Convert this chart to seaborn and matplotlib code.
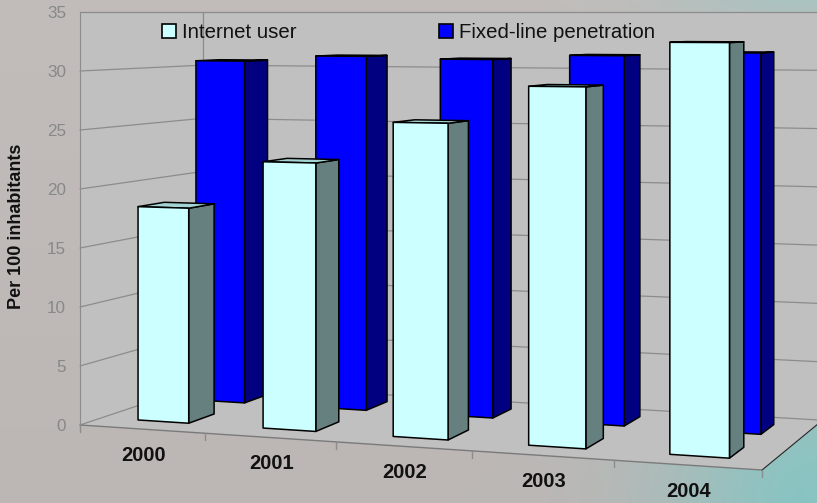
import numpy as np
import pandas as pd
import matplotlib
matplotlib.use("Agg")
import matplotlib.pyplot as plt
import matplotlib.transforms as mtransforms
from matplotlib.patches import Polygon, Patch
from matplotlib.lines import Line2D
import seaborn as sns

# ---- data -------------------------------------------------------------
years = ["2000", "2001", "2002", "2003", "2004"]
internet_users = [18.3, 22.4, 25.9, 29.0, 32.6]
fixed_line = [30.6, 31.1, 30.9, 31.3, 31.6]
series_names = ["Internet user", "Fixed-line penetration"]
value_ticks = [0, 5, 10, 15, 20, 25, 30, 35]
y_label = "Per 100 inhabitants"

df = pd.DataFrame({
    "year": years * 2,
    "value": internet_users + fixed_line,
    "series": [series_names[0]] * len(years) + [series_names[1]] * len(years),
})

# ---- style ------------------------------------------------------------
sns.set_style("white")
plt.rcParams["font.family"] = ["Liberation Sans", "DejaVu Sans"]

front_colors = {series_names[0]: "#CCFFFF", series_names[1]: "#0000FF"}
side_colors = {series_names[0]: "#668080", series_names[1]: "#000080"}
top_colors = {series_names[0]: "#A3D3D3", series_names[1]: "#0000B0"}
# depth slot (front, back) of each series row, in floor-depth units
depth = {series_names[0]: (0.165, 0.375), series_names[1]: (0.64, 0.85)}
row_z = {series_names[0]: 3, series_names[1]: 2}

WALL = "#C0C0C0"
GRID = "#8C8C8C"

W, H = 817, 503
fig = plt.figure(figsize=(W / 100, H / 100), dpi=100)

# ---- soft backdrop ----------------------------------------------------
bg = fig.add_axes([0, 0, 1, 1], zorder=-10)
yy, xx = np.mgrid[0:H, 0:W].astype(float)
base = np.array([190, 185, 183]) / 255
teal = np.array([138, 198, 196]) / 255
wgt = np.exp(-(((W - xx) / 150) ** 2 + ((H - yy) / 150) ** 2))
wgt += 0.45 * np.exp(-(((W - xx) / 150) ** 2 + (yy / 22) ** 2))
wgt = np.clip(wgt, 0, 1)[..., None]
img = base * (1 - wgt) + teal * wgt
img *= (1.02 - 0.03 * (yy / H))[..., None]
bg.imshow(np.clip(img, 0, 1), aspect="auto", extent=(0, 1, 0, 1), origin="upper")
bg.set_axis_off()

# ---- main axes: front plane of the 3-D box ----------------------------
ax = fig.add_axes([80 / W, (H - 425) / H, 615 / W, 413 / H])
ax.patch.set_visible(False)

sns.barplot(data=df, x="year", y="value", hue="series", hue_order=series_names,
            dodge=False, width=0.41, palette=front_colors, saturation=1,
            edgecolor="black", linewidth=1.1, errorbar=None, legend=False, ax=ax)
ax.set_xlim(-0.5, 4.5)
ax.set_ylim(0, 35)
ax.set_autoscale_on(False)

# perspective: foreshortening along categories and depth
C_X = -0.01966
C_Z = 0.11
SHIFT_Z = 1.107


def perspective(U, V, z):
    ox, oy = ax.transData.transform((-0.5, 35))
    sx = ax.transData.transform((0.5, 0))[0] - ax.transData.transform((-0.5, 0))[0]
    t = (U - ox) / sx
    w = 1 + C_X * t + C_Z * z
    u = ox + ((U - ox) + SHIFT_Z * sx * z) / w
    v = oy - (oy - V) / w
    return u, v


class Depth(mtransforms.Transform):
    input_dims = output_dims = 2

    def __init__(self, z):
        super().__init__()
        self.z = z

    def transform_non_affine(self, values):
        values = np.asarray(values, float).reshape(-1, 2)
        u, v = perspective(values[:, 0], values[:, 1], self.z)
        return np.column_stack([u, v])


def project(x, y, z):
    x, y, z = np.broadcast_arrays(np.asarray(x, float), np.asarray(y, float),
                                  np.asarray(z, float))
    UV = ax.transData.transform(np.column_stack([x.ravel(), y.ravel()]))
    u, v = perspective(UV[:, 0], UV[:, 1], z.ravel())
    return np.column_stack([u, v])


ident = mtransforms.IdentityTransform()


def face(xs, ys, zs, **kw):
    p = Polygon(project(xs, ys, zs), closed=True, transform=ident,
                clip_on=False, **kw)
    ax.add_patch(p)
    return p


def polyline(xs, ys, zs, **kw):
    pts = project(xs, ys, zs)
    ln = Line2D(pts[:, 0], pts[:, 1], transform=ident, clip_on=False, **kw)
    ax.add_line(ln)
    return ln


x_lo, x_hi = -0.5, 4.5
y_top = value_ticks[-1]

# walls and floor
face([x_lo] * 4, [0, 0, y_top, y_top], [0, 1, 1, 0], facecolor=WALL, edgecolor="none", zorder=0.1)
face([x_lo, x_hi, x_hi, x_lo], [0, 0, y_top, y_top], [1] * 4, facecolor=WALL, edgecolor="none", zorder=0.1)
face([x_lo, x_hi, x_hi, x_lo], [0] * 4, [0, 0, 1, 1], facecolor=WALL, edgecolor="none", zorder=0.1)

for val in value_ticks[1:]:
    polyline([x_lo, x_lo, x_hi], [val] * 3, [0, 1, 1], color=GRID, lw=0.9, zorder=0.2)
polyline([x_lo, x_lo], [0, y_top], [1, 1], color=GRID, lw=0.9, zorder=0.2)
polyline([x_lo, x_lo, x_hi], [0, 0, 0], [0, 1, 1], color=GRID, lw=0.9, zorder=0.2)
polyline([x_lo, x_hi], [0, 0], [0, 0], color="#7A7A7A", lw=1.0, zorder=0.3)
polyline([x_hi, x_hi], [0, 0], [0, 1], color="#262626", lw=0.8, zorder=0.3)

# category ticks on the front edge of the floor
for k in range(len(years) + 1):
    px, py = project(x_lo + k, 0, 0)[0]
    ax.add_line(Line2D([px, px], [py, py - 7], transform=ident, clip_on=False,
                       color=GRID, lw=1.0, zorder=0.3))

# boxes: seaborn bars become the front faces, sides and tops follow them
for name, container in zip(series_names, ax.containers):
    zf, zb = depth[name]
    zo = row_z[name]
    for rect in container.patches:
        x0 = rect.get_x()
        x1 = x0 + rect.get_width()
        h = rect.get_height()
        face([x1] * 4, [0, 0, h, h], [zf, zb, zb, zf], facecolor=side_colors[name],
             edgecolor="black", lw=1.1, joinstyle="round", zorder=zo)
        face([x0, x1, x1, x0], [h] * 4, [zf, zf, zb, zb], facecolor=top_colors[name],
             edgecolor="black", lw=1.1, joinstyle="round", zorder=zo)
        rect.set_transform(ax.transData + Depth(zf))
        rect.set_clip_on(False)
        rect.set_zorder(zo + 0.05)
        rect.set_joinstyle("round")

# value axis on the front-left edge
for side in ("top", "right", "bottom"):
    ax.spines[side].set_visible(False)
ax.spines["left"].set_color(GRID)
ax.spines["left"].set_bounds(0, y_top)
ax.set_yticks(value_ticks)
ax.set_yticklabels([str(v) for v in value_ticks])
ax.tick_params(axis="y", length=7, width=1, color=GRID, labelcolor="#888888",
               labelsize=12.3, pad=3)
ax.tick_params(axis="x", bottom=False, labelbottom=False)
ax.set_xlabel("")
ax.set_ylabel("")

# year labels along the floor
for i, yr in enumerate(years):
    px, py = project(i, 0, 0)[0]
    ax.annotate(yr, xy=(px, py), xycoords="figure pixels", xytext=(1, -26),
                textcoords="offset pixels", ha="center", va="center",
                fontsize=14.5, fontweight="bold", color="#111111", annotation_clip=False)

fig.text(17 / W, 1 - 226 / H, y_label, rotation=90, ha="center", va="center",
         fontsize=13, fontweight="bold", color="#111111")

handles = [Patch(facecolor=front_colors[n], edgecolor="black", linewidth=1.2) for n in series_names]
fig.legend(handles=handles, labels=series_names, loc="upper left",
           bbox_to_anchor=(162 / W, 1 - 23 / H), ncol=2, frameon=False,
           fontsize=14.7, handlelength=0.7, handleheight=0.7, handletextpad=0.3,
           columnspacing=6.95, borderpad=0, borderaxespad=0, labelcolor="#111111")

fig.savefig("out.png", dpi=100)
